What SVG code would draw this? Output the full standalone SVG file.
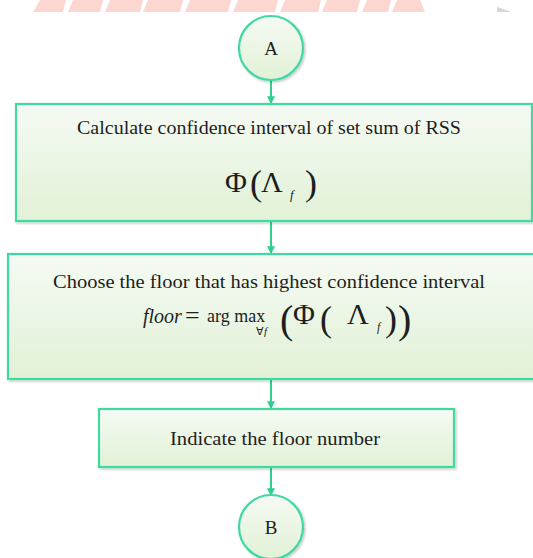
<svg xmlns="http://www.w3.org/2000/svg" width="533" height="558" viewBox="0 0 533 558">
<style>
.box{fill:url(#g);stroke:#3fd9a2;stroke-width:2.2;filter:url(#sh)}
.t{font-family:"Liberation Serif","Times New Roman",serif;fill:#1e1e1e}
.i{font-style:italic}
.c{stroke:#2fcf8f;stroke-width:2;fill:none;marker-end:url(#arr)}
</style>
<defs>
<linearGradient id="g" x1="0" y1="0" x2="0" y2="1">
<stop offset="0" stop-color="#f5faf3"/>
<stop offset="1" stop-color="#e1f1d6"/>
</linearGradient>
<filter id="sh" x="-5%" y="-10%" width="110%" height="125%">
<feDropShadow dx="1.5" dy="1.5" stdDeviation="1.2" flood-color="#000" flood-opacity="0.22"/>
</filter>
<marker id="arr" viewBox="0 0 6 6" refX="5" refY="3" markerWidth="4" markerHeight="4" orient="auto">
<path d="M0,0 L6,3 L0,6 z" fill="#2fcf8f"/>
</marker>
</defs>
<rect width="533" height="558" fill="#fff"/>
<g id="banner" fill="#fcd7d1">
<polygon points="40,0 66,0 63,12 33,12"/>
<polygon points="73,0 103,0 100,12 68,12"/>
<polygon points="110,0 143,0 140,12 105,12"/>
<polygon points="148,0 183,0 180,12 143,12"/>
<polygon points="190,0 231,0 228,12 185,12"/>
<polygon points="238,0 278,0 275,12 233,12"/>
<polygon points="285,0 321,0 318,12 280,12"/>
<polygon points="327,0 360,0 357,12 322,12"/>
<polygon points="367,0 391,0 388,12 362,12"/>
<polygon points="397,0 420,0 425,12 392,12"/>
<polygon points="497,7 512,12 497,12" fill="#d8d8d8"/>
</g>
<g id="connectors">
<line class="c" x1="271" y1="80" x2="271" y2="103"/>
<line class="c" x1="271" y1="221" x2="271" y2="253"/>
<line class="c" x1="271" y1="379" x2="271" y2="408"/>
<line class="c" x1="271" y1="467" x2="271" y2="495"/>
</g>
<g id="nodeA">
<circle class="box" cx="271" cy="48" r="32"/>
<text class="t" x="271" y="55" font-size="19" text-anchor="middle">A</text>
</g>
<g id="node1">
<rect class="box" x="16" y="104" width="516" height="117"/>
<text class="t" x="269" y="134" font-size="18" text-anchor="middle" textLength="384" lengthAdjust="spacingAndGlyphs">Calculate confidence interval of set sum of RSS</text>
<text class="t" font-size="30"><tspan x="225" y="192">Φ</tspan><tspan x="250" y="195" font-size="36">(</tspan><tspan x="261" y="192">Λ</tspan><tspan x="290" y="199" font-size="13" font-style="italic">f</tspan><tspan x="305" y="195" font-size="36">)</tspan></text>
</g>
<g id="node2">
<rect class="box" x="8" y="254" width="530" height="125"/>
<text class="t" x="269" y="288" font-size="18" text-anchor="middle" textLength="432" lengthAdjust="spacingAndGlyphs">Choose the floor that has highest confidence interval</text>
<text class="t" font-size="30"><tspan x="143" y="323" font-size="20" font-style="italic">floor</tspan><tspan x="185" y="324" font-size="26">=</tspan><tspan x="207" y="322" font-size="18">arg max</tspan><tspan x="256" y="335" font-size="11">∀<tspan font-style="italic">f</tspan></tspan><tspan x="280" y="333" font-size="40">(</tspan><tspan x="293" y="324">Φ</tspan><tspan x="320" y="331" font-size="36">(</tspan><tspan x="347" y="324">Λ</tspan><tspan x="377" y="331" font-size="12" font-style="italic">f</tspan><tspan x="385" y="331" font-size="36">)</tspan><tspan x="398" y="333" font-size="40">)</tspan></text>
</g>
<g id="node3">
<rect class="box" x="99" y="409" width="355" height="58"/>
<text class="t" x="275" y="445" font-size="19" text-anchor="middle" textLength="210" lengthAdjust="spacingAndGlyphs">Indicate the floor number</text>
</g>
<g id="nodeB">
<circle class="box" cx="271" cy="527" r="32"/>
<text class="t" x="271" y="534" font-size="19" text-anchor="middle">B</text>
</g>
</svg>
